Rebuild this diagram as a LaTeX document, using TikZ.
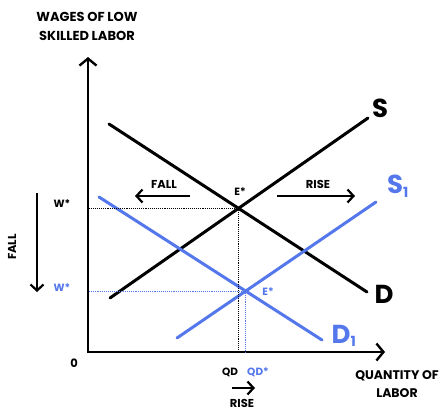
\documentclass[tikz,border=0pt]{standalone}
\usepackage{fontspec}
\setmainfont{Poppins}
\usetikzlibrary{arrows.meta,intersections}
\definecolor{shiftblue}{RGB}{84,119,236}

\begin{document}
\begin{tikzpicture}[x=1pt, y=-1pt,
  font=\bfseries\fontsize{11.5}{13}\selectfont,
  tip/.style={-{Straight Barb[length=6pt, width=13pt, line width=2.2pt]}},
  axis/.style={line width=2.8pt},
  curve/.style={line width=3pt, line cap=round},
  guide/.style={densely dotted, line width=0.9pt},
  move/.style={line width=2.4pt, tip},
  big/.style={font=\bfseries\fontsize{26}{28}\selectfont, inner sep=0pt},
  small/.style={font=\bfseries\fontsize{10.5}{12}\selectfont, inner sep=1pt}]
\useasboundingbox (0,0) rectangle (439,410);

% axes
\coordinate (ytop) at (88,57);
\coordinate (orig) at (88,352);
\coordinate (xend) at (385,352);
\draw[axis, {Straight Barb[length=7pt, width=17pt, line width=2.4pt]}-{Straight Barb[length=7pt, width=17pt, line width=2.4pt]}] (ytop) |- (xend);
\node[align=center, font=\bfseries\fontsize{13}{19}\selectfont] (ytitle) at (87,26) {WAGES OF LOW\\SKILLED LABOR};
\node[align=center, font=\bfseries\fontsize{12.5}{18}\selectfont] (xtitle) at (397,384) {QUANTITY OF\\LABOR};
\node (zero) at (74,363) {0};

% original curves
\draw[curve, name path=supply] (110,298) coordinate (s0) -- (368,118) coordinate (s1);
\draw[curve, name path=demand] (109,124) coordinate (d0) -- (367,292) coordinate (d1);
\node[big] (slab) at (380,108) {S};
\node[big] (dlab) at (384,294) {D};

% shifted curves
\draw[curve, shiftblue, name path=supply1] (177,338) coordinate (sb0) -- (376,202) coordinate (sb1);
\draw[curve, shiftblue, name path=demand1] (99,197) coordinate (db0) -- (322,340) coordinate (db1);
\node[big, text=shiftblue] (s1lab) at (398,186) {S\textsubscript{\fontsize{14}{15}\selectfont1}};
\node[big, text=shiftblue] (d1lab) at (344,336) {D\textsubscript{\fontsize{14}{15}\selectfont1}};

% equilibria
\path[name intersections={of=supply and demand, by=eq}];
\path[name intersections={of=supply1 and demand1, by=eqb}];
\draw[guide] (eq) -- (eq -| orig);
\draw[guide] (eq) -- (eq |- orig);
\draw[guide, shiftblue] (eqb) -- (eqb -| orig);
\draw[guide, shiftblue] (eqb) -- (eqb |- orig);
\node[small] (elab) at (240,192) {E*};
\node[small, text=shiftblue] (eblab) at (268,292) {E*};
\node[small] (wlab) at (62,204) {W*};
\node[small, text=shiftblue] (wblab) at (62,288) {W*};
\node[small] (qdlab) at (230,372) {QD};
\node[small, text=shiftblue] (qdblab) at (258,372) {QD*};

% movements
\coordinate (fall0) at (190,196);
\coordinate (fall1) at (135,196);
\draw[move] (fall0) -- (fall1);
\node (falltop) at (164,184) {FALL};
\coordinate (rise0) at (277,196);
\coordinate (rise1) at (355,196);
\draw[move] (rise0) -- (rise1);
\node (risetop) at (318,184) {RISE};
\coordinate (wfall0) at (37,193);
\coordinate (wfall1) at (37,292);
\draw[move] (wfall0) -- (wfall1);
\node[rotate=90] (fallside) at (12,247) {FALL};
\coordinate (qrise0) at (232,388);
\coordinate (qrise1) at (255,388);
\draw[move] (qrise0) -- (qrise1);
\node (risebot) at (242,403) {RISE};
\end{tikzpicture}
\end{document}
